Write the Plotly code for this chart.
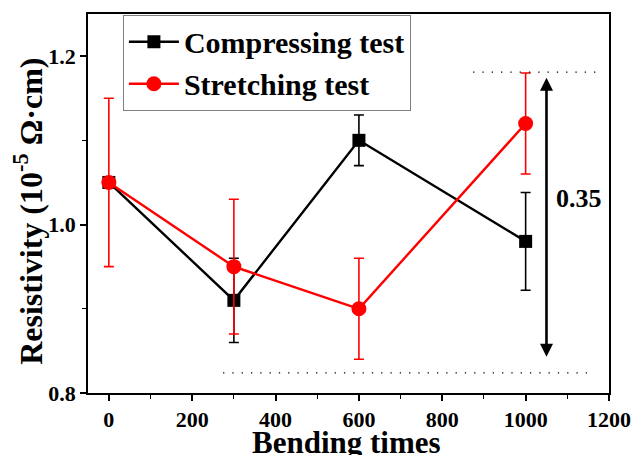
import plotly.graph_objects as go

bending = [0, 300, 600, 1000]
compress_vals = [1.05, 0.91, 1.10, 0.98]
compress_err = [0.0, 0.05, 0.03, 0.058]
stretch_vals = [1.05, 0.95, 0.90, 1.12]
stretch_err = [0.10, 0.08, 0.06, 0.06]

x_ticks = [0, 200, 400, 600, 800, 1000, 1200]
y_ticks = [0.8, 1.0, 1.2]

FONT = "Liberation Serif"

fig = go.Figure()
fig.add_trace(go.Scatter(
    x=bending, y=compress_vals, mode="lines+markers", name="<b>Compressing test</b>",
    line=dict(color="black", width=2.4),
    marker=dict(symbol="square", size=13, color="black"),
    error_y=dict(type="data", array=compress_err, color="black", thickness=1.6, width=5),
))
fig.add_trace(go.Scatter(
    x=bending, y=stretch_vals, mode="lines+markers", name="<b>Stretching test</b>",
    line=dict(color="#ff0000", width=2.4),
    marker=dict(symbol="circle", size=15, color="#ff0000"),
    error_y=dict(type="data", array=stretch_err, color="#ff0000", thickness=1.6, width=5),
))

# dotted reference lines
fig.add_shape(type="line", x0=874, x1=1174, y0=1.181, y1=1.181,
              line=dict(color="black", width=1.3, dash="1.3px,8px"))
fig.add_shape(type="line", x0=274, x1=1161, y0=0.824, y1=0.824,
              line=dict(color="black", width=1.3, dash="1.3px,8px"))

# double-headed arrow
fig.add_annotation(x=1050, y=0.843, ax=1050, ay=1.176, xref="x", yref="y",
                   axref="x", ayref="y", text="", showarrow=True,
                   arrowhead=2, startarrowhead=2, arrowside="end+start",
                   arrowsize=1.0, arrowwidth=2.6, arrowcolor="black")
fig.add_annotation(x=1128, y=1.031, xref="x", yref="y", text="<b>0.35</b>",
                   showarrow=False, font=dict(family=FONT, size=26, color="black"))

# axis titles
fig.add_annotation(x=0.497, y=0, xref="paper", yref="paper", yshift=-49,
                   xanchor="center", yanchor="middle", showarrow=False,
                   text="<b>Bending times</b>", font=dict(family=FONT, size=31, color="black"))
fig.add_annotation(x=0, y=0.478, xref="paper", yref="paper", xshift=-60,
                   xanchor="center", yanchor="middle", showarrow=False, textangle=-90,
                   text="<b>Resistivity (10<sup>-5</sup> Ω·cm)</b>",
                   font=dict(family=FONT, size=32, color="black"))

fig.update_layout(
    width=632, height=455,
    margin=dict(l=88, r=23, t=14, b=62),
    paper_bgcolor="white", plot_bgcolor="white",
    font=dict(family=FONT, color="black"),
    showlegend=True,
    legend=dict(x=0.067, y=0.998, xanchor="left", yanchor="top",
                bordercolor="#808080", borderwidth=1, bgcolor="white",
                font=dict(family=FONT, size=30, color="black"),
                itemwidth=50, tracegroupgap=0),
)
fig.update_xaxes(
    range=[-50, 1200], tickvals=x_ticks, ticktext=[f"<b>{v}</b>" for v in x_ticks],
    ticks="outside", ticklen=6, tickwidth=1.5, tickcolor="black",
    minor=dict(dtick=100, ticks="outside", ticklen=4, tickwidth=1.2, tickcolor="black"),
    showline=True, linecolor="black", linewidth=1.5, mirror=True,
    showgrid=False, zeroline=False, automargin=False,
    tickfont=dict(family=FONT, size=22, color="black"),
)
fig.update_yaxes(
    range=[0.8, 1.25], tickvals=y_ticks, ticktext=[f"<b>{v:.1f}</b>" for v in y_ticks],
    ticks="outside", ticklen=6, tickwidth=1.5, tickcolor="black",
    minor=dict(dtick=0.1, ticks="outside", ticklen=4, tickwidth=1.2, tickcolor="black"),
    showline=True, linecolor="black", linewidth=1.5, mirror=True,
    showgrid=False, zeroline=False, automargin=False,
    tickfont=dict(family=FONT, size=22, color="black"),
)

fig.write_html("out.html")
